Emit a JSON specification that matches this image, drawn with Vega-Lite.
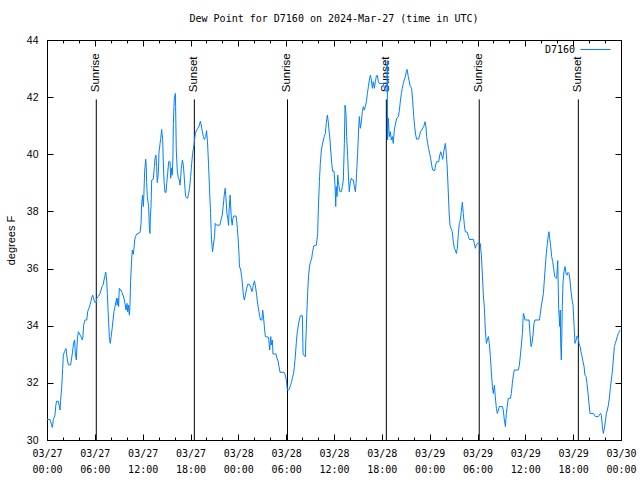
{
"$schema": "https://vega.github.io/schema/vega-lite/v6.json",
"width": 574, "height": 400,
"autosize": "none",
"padding": {"left": 47, "top": 40, "right": 19, "bottom": 40},
"background": "white",
"title": {"text": "Dew Point for D7160 on 2024-Mar-27 (time in UTC)", "font": "DejaVu Sans Mono", "fontSize": 10, "fontWeight": "normal", "color": "black", "offset": 10, "anchor": "middle"},
"config": {"view": {"stroke": "black", "strokeWidth": 1}, "axis": {"grid": false, "domain": false, "tickColor": "black", "labelColor": "black", "titleColor": "black"}},
"datasets": {
"ev": [{"t":"2024-03-27T06:11:00Z","ev":"Sunrise"},{"t":"2024-03-27T18:29:00Z","ev":"Sunset"},{"t":"2024-03-28T06:10:00Z","ev":"Sunrise"},{"t":"2024-03-28T18:34:00Z","ev":"Sunset"},{"t":"2024-03-29T06:13:00Z","ev":"Sunrise"},{"t":"2024-03-29T18:39:00Z","ev":"Sunset"}]
},
"resolve": {"axis": {"x": "independent", "y": "independent"}},
"layer": [
{
"data": {"name": "ev"},
"mark": {"type": "rule", "color": "black", "strokeWidth": 1},
"encoding": {
"x": {"field": "t", "type": "temporal", "scale": {"type": "utc", "domain": ["2024-03-27T00:00:00Z", "2024-03-30T00:00:00Z"], "nice": false},
 "axis": {"orient": "top", "labels": false, "title": null, "tickCount": 12, "tickSize": -6}},
"y": {"datum": 30, "type": "quantitative", "scale": {"domain": [30, 44], "nice": false, "zero": false},
 "axis": {"orient": "right", "labels": false, "title": null, "values": [30,32,34,36,38,40,42,44], "tickSize": -6}},
"y2": {"datum": 41.92}
}
},
{
"data": {"name": "ev"},
"mark": {"type": "rule", "color": "black", "strokeWidth": 1, "opacity": 0},
"encoding": {
"x": {"field": "t", "type": "temporal", "scale": {"type": "utc", "domain": ["2024-03-27T00:00:00Z", "2024-03-30T00:00:00Z"], "nice": false},
 "axis": {"orient": "top", "labels": false, "title": null, "tickSize": -3, "values": [
{"year":2024,"month":3,"date":27,"hours":0,"utc":true},{"year":2024,"month":3,"date":27,"hours":2,"utc":true},{"year":2024,"month":3,"date":27,"hours":4,"utc":true},{"year":2024,"month":3,"date":27,"hours":6,"utc":true},{"year":2024,"month":3,"date":27,"hours":8,"utc":true},{"year":2024,"month":3,"date":27,"hours":10,"utc":true},{"year":2024,"month":3,"date":27,"hours":12,"utc":true},{"year":2024,"month":3,"date":27,"hours":14,"utc":true},{"year":2024,"month":3,"date":27,"hours":16,"utc":true},{"year":2024,"month":3,"date":27,"hours":18,"utc":true},{"year":2024,"month":3,"date":27,"hours":20,"utc":true},{"year":2024,"month":3,"date":27,"hours":22,"utc":true},
{"year":2024,"month":3,"date":28,"hours":0,"utc":true},{"year":2024,"month":3,"date":28,"hours":2,"utc":true},{"year":2024,"month":3,"date":28,"hours":4,"utc":true},{"year":2024,"month":3,"date":28,"hours":6,"utc":true},{"year":2024,"month":3,"date":28,"hours":8,"utc":true},{"year":2024,"month":3,"date":28,"hours":10,"utc":true},{"year":2024,"month":3,"date":28,"hours":12,"utc":true},{"year":2024,"month":3,"date":28,"hours":14,"utc":true},{"year":2024,"month":3,"date":28,"hours":16,"utc":true},{"year":2024,"month":3,"date":28,"hours":18,"utc":true},{"year":2024,"month":3,"date":28,"hours":20,"utc":true},{"year":2024,"month":3,"date":28,"hours":22,"utc":true},
{"year":2024,"month":3,"date":29,"hours":0,"utc":true},{"year":2024,"month":3,"date":29,"hours":2,"utc":true},{"year":2024,"month":3,"date":29,"hours":4,"utc":true},{"year":2024,"month":3,"date":29,"hours":6,"utc":true},{"year":2024,"month":3,"date":29,"hours":8,"utc":true},{"year":2024,"month":3,"date":29,"hours":10,"utc":true},{"year":2024,"month":3,"date":29,"hours":12,"utc":true},{"year":2024,"month":3,"date":29,"hours":14,"utc":true},{"year":2024,"month":3,"date":29,"hours":16,"utc":true},{"year":2024,"month":3,"date":29,"hours":18,"utc":true},{"year":2024,"month":3,"date":29,"hours":20,"utc":true},{"year":2024,"month":3,"date":29,"hours":22,"utc":true},{"year":2024,"month":3,"date":30,"hours":0,"utc":true}]}},
"y": {"datum": 30, "type": "quantitative", "axis": null},
"y2": {"datum": 41.92}
}
},
{
"data": {"name": "ev"},
"mark": {"type": "rule", "color": "black", "strokeWidth": 1, "opacity": 0},
"encoding": {
"x": {"field": "t", "type": "temporal", "scale": {"type": "utc", "domain": ["2024-03-27T00:00:00Z", "2024-03-30T00:00:00Z"], "nice": false},
 "axis": {"orient": "bottom", "title": null, "tickCount": 12, "ticks": false, "format": "%H:%M", "labelFont": "DejaVu Sans Mono", "labelFontSize": 10, "labelPadding": 24, "labelBaseline": "top", "labelOverlap": false, "labelFlush": false, "labelBound": false}},
"y": {"datum": 30, "type": "quantitative", "axis": null},
"y2": {"datum": 41.92}
}
},
{
"data": {"name": "ev"},
"mark": {"type": "text", "angle": 270, "align": "left", "baseline": "middle", "font": "Liberation Sans", "fontSize": 11.5, "color": "black"},
"encoding": {
"x": {"field": "t", "type": "temporal", "scale": {"type": "utc", "domain": ["2024-03-27T00:00:00Z", "2024-03-30T00:00:00Z"], "nice": false},
 "axis": {"orient": "bottom", "labels": false, "title": null, "tickSize": -3, "values": [
{"year":2024,"month":3,"date":27,"hours":0,"utc":true},{"year":2024,"month":3,"date":27,"hours":2,"utc":true},{"year":2024,"month":3,"date":27,"hours":4,"utc":true},{"year":2024,"month":3,"date":27,"hours":6,"utc":true},{"year":2024,"month":3,"date":27,"hours":8,"utc":true},{"year":2024,"month":3,"date":27,"hours":10,"utc":true},{"year":2024,"month":3,"date":27,"hours":12,"utc":true},{"year":2024,"month":3,"date":27,"hours":14,"utc":true},{"year":2024,"month":3,"date":27,"hours":16,"utc":true},{"year":2024,"month":3,"date":27,"hours":18,"utc":true},{"year":2024,"month":3,"date":27,"hours":20,"utc":true},{"year":2024,"month":3,"date":27,"hours":22,"utc":true},
{"year":2024,"month":3,"date":28,"hours":0,"utc":true},{"year":2024,"month":3,"date":28,"hours":2,"utc":true},{"year":2024,"month":3,"date":28,"hours":4,"utc":true},{"year":2024,"month":3,"date":28,"hours":6,"utc":true},{"year":2024,"month":3,"date":28,"hours":8,"utc":true},{"year":2024,"month":3,"date":28,"hours":10,"utc":true},{"year":2024,"month":3,"date":28,"hours":12,"utc":true},{"year":2024,"month":3,"date":28,"hours":14,"utc":true},{"year":2024,"month":3,"date":28,"hours":16,"utc":true},{"year":2024,"month":3,"date":28,"hours":18,"utc":true},{"year":2024,"month":3,"date":28,"hours":20,"utc":true},{"year":2024,"month":3,"date":28,"hours":22,"utc":true},
{"year":2024,"month":3,"date":29,"hours":0,"utc":true},{"year":2024,"month":3,"date":29,"hours":2,"utc":true},{"year":2024,"month":3,"date":29,"hours":4,"utc":true},{"year":2024,"month":3,"date":29,"hours":6,"utc":true},{"year":2024,"month":3,"date":29,"hours":8,"utc":true},{"year":2024,"month":3,"date":29,"hours":10,"utc":true},{"year":2024,"month":3,"date":29,"hours":12,"utc":true},{"year":2024,"month":3,"date":29,"hours":14,"utc":true},{"year":2024,"month":3,"date":29,"hours":16,"utc":true},{"year":2024,"month":3,"date":29,"hours":18,"utc":true},{"year":2024,"month":3,"date":29,"hours":20,"utc":true},{"year":2024,"month":3,"date":29,"hours":22,"utc":true},{"year":2024,"month":3,"date":30,"hours":0,"utc":true}]}},
"y": {"datum": 42.17, "type": "quantitative", "axis": null},
"text": {"field": "ev"}
}
},
{
"data": {"values": [
{"t":"2024-03-27T00:00:00Z","v":30.72},{"t":"2024-03-27T00:23:00Z","v":30.72},{"t":"2024-03-27T00:33:00Z","v":30.55},{"t":"2024-03-27T00:40:00Z","v":30.44},{"t":"2024-03-27T00:48:00Z","v":30.72},{"t":"2024-03-27T01:00:00Z","v":30.87},{"t":"2024-03-27T01:06:00Z","v":31.19},{"t":"2024-03-27T01:12:00Z","v":31.36},{"t":"2024-03-27T01:25:00Z","v":31.36},{"t":"2024-03-27T01:33:00Z","v":31.19},{"t":"2024-03-27T01:38:00Z","v":31.05},{"t":"2024-03-27T01:42:00Z","v":31.36},{"t":"2024-03-27T01:50:00Z","v":31.8},{"t":"2024-03-27T01:58:00Z","v":32.5},{"t":"2024-03-27T02:03:00Z","v":32.97},{"t":"2024-03-27T02:12:00Z","v":33.09},{"t":"2024-03-27T02:23:00Z","v":33.2},{"t":"2024-03-27T02:33:00Z","v":32.8},{"t":"2024-03-27T02:41:00Z","v":32.63},{"t":"2024-03-27T02:58:00Z","v":32.63},{"t":"2024-03-27T03:03:00Z","v":32.8},{"t":"2024-03-27T03:11:00Z","v":33.04},{"t":"2024-03-27T03:15:00Z","v":33.2},{"t":"2024-03-27T03:20:00Z","v":33.39},{"t":"2024-03-27T03:28:00Z","v":33.5},{"t":"2024-03-27T03:33:00Z","v":33.04},{"t":"2024-03-27T03:41:00Z","v":32.8},{"t":"2024-03-27T03:48:00Z","v":33.5},{"t":"2024-03-27T03:56:00Z","v":33.79},{"t":"2024-03-27T04:08:00Z","v":33.68},{"t":"2024-03-27T04:18:00Z","v":33.6},{"t":"2024-03-27T04:26:00Z","v":33.5},{"t":"2024-03-27T04:30:00Z","v":33.6},{"t":"2024-03-27T04:36:00Z","v":34.02},{"t":"2024-03-27T04:46:00Z","v":34.2},{"t":"2024-03-27T04:59:00Z","v":34.2},{"t":"2024-03-27T05:03:00Z","v":34.34},{"t":"2024-03-27T05:06:00Z","v":34.49},{"t":"2024-03-27T05:14:00Z","v":34.6},{"t":"2024-03-27T05:23:00Z","v":34.72},{"t":"2024-03-27T05:30:00Z","v":34.84},{"t":"2024-03-27T05:36:00Z","v":34.98},{"t":"2024-03-27T05:44:00Z","v":35.07},{"t":"2024-03-27T05:54:00Z","v":34.9},{"t":"2024-03-27T06:00:00Z","v":34.82},{"t":"2024-03-27T06:12:00Z","v":34.82},{"t":"2024-03-27T06:14:00Z","v":34.96},{"t":"2024-03-27T06:26:00Z","v":35.02},{"t":"2024-03-27T06:39:00Z","v":35.13},{"t":"2024-03-27T06:47:00Z","v":35.25},{"t":"2024-03-27T06:54:00Z","v":35.37},{"t":"2024-03-27T07:04:00Z","v":35.45},{"t":"2024-03-27T07:09:00Z","v":35.6},{"t":"2024-03-27T07:17:00Z","v":35.77},{"t":"2024-03-27T07:22:00Z","v":35.88},{"t":"2024-03-27T07:29:00Z","v":35.6},{"t":"2024-03-27T07:34:00Z","v":35.13},{"t":"2024-03-27T07:39:00Z","v":34.6},{"t":"2024-03-27T07:44:00Z","v":34.1},{"t":"2024-03-27T07:49:00Z","v":33.62},{"t":"2024-03-27T07:56:00Z","v":33.38},{"t":"2024-03-27T08:02:00Z","v":33.6},{"t":"2024-03-27T08:09:00Z","v":33.85},{"t":"2024-03-27T08:17:00Z","v":34.2},{"t":"2024-03-27T08:24:00Z","v":34.49},{"t":"2024-03-27T08:32:00Z","v":34.67},{"t":"2024-03-27T08:44:00Z","v":34.96},{"t":"2024-03-27T08:48:00Z","v":34.72},{"t":"2024-03-27T08:54:00Z","v":34.96},{"t":"2024-03-27T08:59:00Z","v":34.67},{"t":"2024-03-27T09:04:00Z","v":35.31},{"t":"2024-03-27T09:15:00Z","v":35.25},{"t":"2024-03-27T09:25:00Z","v":35.16},{"t":"2024-03-27T09:34:00Z","v":35.04},{"t":"2024-03-27T09:42:00Z","v":34.9},{"t":"2024-03-27T09:47:00Z","v":34.78},{"t":"2024-03-27T09:55:00Z","v":34.55},{"t":"2024-03-27T10:02:00Z","v":34.78},{"t":"2024-03-27T10:07:00Z","v":34.49},{"t":"2024-03-27T10:12:00Z","v":34.72},{"t":"2024-03-27T10:20:00Z","v":34.37},{"t":"2024-03-27T10:25:00Z","v":34.78},{"t":"2024-03-27T10:29:00Z","v":35.54},{"t":"2024-03-27T10:37:00Z","v":36.3},{"t":"2024-03-27T10:42:00Z","v":36.65},{"t":"2024-03-27T10:50:00Z","v":36.5},{"t":"2024-03-27T10:54:00Z","v":36.68},{"t":"2024-03-27T11:00:00Z","v":37.0},{"t":"2024-03-27T11:06:00Z","v":37.12},{"t":"2024-03-27T11:15:00Z","v":37.21},{"t":"2024-03-27T11:40:00Z","v":37.26},{"t":"2024-03-27T11:48:00Z","v":37.58},{"t":"2024-03-27T11:52:00Z","v":38.22},{"t":"2024-03-27T11:59:00Z","v":38.57},{"t":"2024-03-27T12:05:00Z","v":38.17},{"t":"2024-03-27T12:09:00Z","v":38.57},{"t":"2024-03-27T12:15:00Z","v":39.41},{"t":"2024-03-27T12:23:00Z","v":39.83},{"t":"2024-03-27T12:27:00Z","v":39.57},{"t":"2024-03-27T12:30:00Z","v":39.01},{"t":"2024-03-27T12:35:00Z","v":38.52},{"t":"2024-03-27T12:45:00Z","v":38.17},{"t":"2024-03-27T12:50:00Z","v":37.47},{"t":"2024-03-27T12:55:00Z","v":37.23},{"t":"2024-03-27T12:58:00Z","v":37.8},{"t":"2024-03-27T13:03:00Z","v":38.17},{"t":"2024-03-27T13:08:00Z","v":39.1},{"t":"2024-03-27T13:20:00Z","v":39.13},{"t":"2024-03-27T13:28:00Z","v":39.57},{"t":"2024-03-27T13:33:00Z","v":39.86},{"t":"2024-03-27T13:40:00Z","v":39.97},{"t":"2024-03-27T13:45:00Z","v":39.57},{"t":"2024-03-27T13:50:00Z","v":39.01},{"t":"2024-03-27T13:58:00Z","v":39.33},{"t":"2024-03-27T14:03:00Z","v":40.08},{"t":"2024-03-27T14:16:00Z","v":40.56},{"t":"2024-03-27T14:23:00Z","v":40.87},{"t":"2024-03-27T14:31:00Z","v":40.5},{"t":"2024-03-27T14:35:00Z","v":39.74},{"t":"2024-03-27T14:41:00Z","v":39.04},{"t":"2024-03-27T14:48:00Z","v":38.67},{"t":"2024-03-27T14:56:00Z","v":38.67},{"t":"2024-03-27T15:01:00Z","v":38.98},{"t":"2024-03-27T15:08:00Z","v":39.33},{"t":"2024-03-27T15:16:00Z","v":39.74},{"t":"2024-03-27T15:26:00Z","v":39.74},{"t":"2024-03-27T15:31:00Z","v":39.16},{"t":"2024-03-27T15:38:00Z","v":39.51},{"t":"2024-03-27T15:43:00Z","v":39.27},{"t":"2024-03-27T15:48:00Z","v":39.97},{"t":"2024-03-27T15:51:00Z","v":41.08},{"t":"2024-03-27T15:58:00Z","v":41.96},{"t":"2024-03-27T16:06:00Z","v":42.13},{"t":"2024-03-27T16:08:00Z","v":41.67},{"t":"2024-03-27T16:13:00Z","v":40.15},{"t":"2024-03-27T16:21:00Z","v":39.39},{"t":"2024-03-27T16:28:00Z","v":39.18},{"t":"2024-03-27T16:36:00Z","v":39.1},{"t":"2024-03-27T16:41:00Z","v":38.92},{"t":"2024-03-27T16:46:00Z","v":39.2},{"t":"2024-03-27T16:51:00Z","v":39.51},{"t":"2024-03-27T16:59:00Z","v":39.8},{"t":"2024-03-27T17:06:00Z","v":39.62},{"t":"2024-03-27T17:11:00Z","v":39.33},{"t":"2024-03-27T17:19:00Z","v":38.77},{"t":"2024-03-27T17:23:00Z","v":38.52},{"t":"2024-03-27T17:38:00Z","v":38.46},{"t":"2024-03-27T17:46:00Z","v":38.63},{"t":"2024-03-27T17:53:00Z","v":38.81},{"t":"2024-03-27T18:01:00Z","v":39.22},{"t":"2024-03-27T18:09:00Z","v":39.68},{"t":"2024-03-27T18:16:00Z","v":40.03},{"t":"2024-03-27T18:26:00Z","v":40.32},{"t":"2024-03-27T18:30:00Z","v":40.5},{"t":"2024-03-27T18:37:00Z","v":40.73},{"t":"2024-03-27T18:46:00Z","v":40.85},{"t":"2024-03-27T18:56:00Z","v":40.91},{"t":"2024-03-27T19:07:00Z","v":41.02},{"t":"2024-03-27T19:14:00Z","v":41.16},{"t":"2024-03-27T19:22:00Z","v":40.99},{"t":"2024-03-27T19:29:00Z","v":40.79},{"t":"2024-03-27T19:37:00Z","v":40.62},{"t":"2024-03-27T19:44:00Z","v":40.52},{"t":"2024-03-27T19:54:00Z","v":40.62},{"t":"2024-03-27T20:01:00Z","v":40.83},{"t":"2024-03-27T20:08:00Z","v":40.44},{"t":"2024-03-27T20:16:00Z","v":39.63},{"t":"2024-03-27T20:23:00Z","v":38.78},{"t":"2024-03-27T20:31:00Z","v":37.93},{"t":"2024-03-27T20:38:00Z","v":37.03},{"t":"2024-03-27T20:46:00Z","v":36.59},{"t":"2024-03-27T20:53:00Z","v":36.86},{"t":"2024-03-27T21:01:00Z","v":37.12},{"t":"2024-03-27T21:06:00Z","v":37.58},{"t":"2024-03-27T21:16:00Z","v":37.52},{"t":"2024-03-27T21:41:00Z","v":37.52},{"t":"2024-03-27T21:49:00Z","v":37.7},{"t":"2024-03-27T21:59:00Z","v":37.87},{"t":"2024-03-27T22:06:00Z","v":38.17},{"t":"2024-03-27T22:14:00Z","v":38.57},{"t":"2024-03-27T22:21:00Z","v":38.81},{"t":"2024-03-27T22:26:00Z","v":38.52},{"t":"2024-03-27T22:34:00Z","v":37.93},{"t":"2024-03-27T22:41:00Z","v":37.76},{"t":"2024-03-27T22:46:00Z","v":37.51},{"t":"2024-03-27T22:51:00Z","v":38.05},{"t":"2024-03-27T22:58:00Z","v":38.57},{"t":"2024-03-27T23:04:00Z","v":38.05},{"t":"2024-03-27T23:08:00Z","v":37.7},{"t":"2024-03-27T23:14:00Z","v":37.52},{"t":"2024-03-27T23:19:00Z","v":37.76},{"t":"2024-03-27T23:26:00Z","v":37.84},{"t":"2024-03-27T23:43:00Z","v":37.84},{"t":"2024-03-27T23:51:00Z","v":37.52},{"t":"2024-03-27T23:59:00Z","v":37.0},
{"t":"2024-03-28T00:06:00Z","v":36.42},{"t":"2024-03-28T00:08:00Z","v":36.09},{"t":"2024-03-28T00:18:00Z","v":35.95},{"t":"2024-03-28T00:25:00Z","v":35.72},{"t":"2024-03-28T00:32:00Z","v":35.39},{"t":"2024-03-28T00:38:00Z","v":35.07},{"t":"2024-03-28T00:45:00Z","v":34.9},{"t":"2024-03-28T00:53:00Z","v":35.07},{"t":"2024-03-28T01:03:00Z","v":35.31},{"t":"2024-03-28T01:10:00Z","v":35.45},{"t":"2024-03-28T01:23:00Z","v":35.45},{"t":"2024-03-28T01:33:00Z","v":35.34},{"t":"2024-03-28T01:43:00Z","v":35.19},{"t":"2024-03-28T01:53:00Z","v":35.42},{"t":"2024-03-28T02:01:00Z","v":35.57},{"t":"2024-03-28T02:08:00Z","v":35.42},{"t":"2024-03-28T02:18:00Z","v":35.07},{"t":"2024-03-28T02:26:00Z","v":34.76},{"t":"2024-03-28T02:33:00Z","v":34.55},{"t":"2024-03-28T02:41:00Z","v":34.32},{"t":"2024-03-28T02:48:00Z","v":34.2},{"t":"2024-03-28T02:58:00Z","v":34.2},{"t":"2024-03-28T03:03:00Z","v":34.55},{"t":"2024-03-28T03:08:00Z","v":34.37},{"t":"2024-03-28T03:16:00Z","v":33.97},{"t":"2024-03-28T03:23:00Z","v":33.62},{"t":"2024-03-28T03:46:00Z","v":33.6},{"t":"2024-03-28T03:51:00Z","v":33.44},{"t":"2024-03-28T03:56:00Z","v":33.15},{"t":"2024-03-28T04:04:00Z","v":33.62},{"t":"2024-03-28T04:08:00Z","v":33.33},{"t":"2024-03-28T04:16:00Z","v":33.5},{"t":"2024-03-28T04:21:00Z","v":33.01},{"t":"2024-03-28T04:44:00Z","v":33.01},{"t":"2024-03-28T04:51:00Z","v":32.86},{"t":"2024-03-28T04:59:00Z","v":32.77},{"t":"2024-03-28T05:06:00Z","v":32.57},{"t":"2024-03-28T05:14:00Z","v":32.37},{"t":"2024-03-28T05:44:00Z","v":32.37},{"t":"2024-03-28T05:51:00Z","v":32.3},{"t":"2024-03-28T05:59:00Z","v":32.16},{"t":"2024-03-28T06:04:00Z","v":31.98},{"t":"2024-03-28T06:09:00Z","v":31.75},{"t":"2024-03-28T06:19:00Z","v":31.75},{"t":"2024-03-28T06:26:00Z","v":31.82},{"t":"2024-03-28T06:34:00Z","v":31.94},{"t":"2024-03-28T06:41:00Z","v":32.04},{"t":"2024-03-28T06:49:00Z","v":32.22},{"t":"2024-03-28T06:56:00Z","v":32.34},{"t":"2024-03-28T07:02:00Z","v":32.57},{"t":"2024-03-28T07:09:00Z","v":32.94},{"t":"2024-03-28T07:17:00Z","v":33.44},{"t":"2024-03-28T07:24:00Z","v":33.79},{"t":"2024-03-28T07:32:00Z","v":34.02},{"t":"2024-03-28T07:39:00Z","v":34.2},{"t":"2024-03-28T07:47:00Z","v":34.35},{"t":"2024-03-28T08:02:00Z","v":34.35},{"t":"2024-03-28T08:07:00Z","v":33.03},{"t":"2024-03-28T08:14:00Z","v":32.97},{"t":"2024-03-28T08:25:00Z","v":32.91},{"t":"2024-03-28T08:27:00Z","v":33.32},{"t":"2024-03-28T08:34:00Z","v":34.26},{"t":"2024-03-28T08:42:00Z","v":35.19},{"t":"2024-03-28T08:49:00Z","v":35.77},{"t":"2024-03-28T08:57:00Z","v":36.12},{"t":"2024-03-28T09:04:00Z","v":36.24},{"t":"2024-03-28T09:12:00Z","v":36.36},{"t":"2024-03-28T09:19:00Z","v":36.59},{"t":"2024-03-28T09:27:00Z","v":36.79},{"t":"2024-03-28T09:47:00Z","v":36.82},{"t":"2024-03-28T09:55:00Z","v":37.12},{"t":"2024-03-28T09:57:00Z","v":37.23},{"t":"2024-03-28T10:02:00Z","v":38.05},{"t":"2024-03-28T10:10:00Z","v":39.04},{"t":"2024-03-28T10:17:00Z","v":39.68},{"t":"2024-03-28T10:25:00Z","v":40.15},{"t":"2024-03-28T10:32:00Z","v":40.32},{"t":"2024-03-28T10:40:00Z","v":40.5},{"t":"2024-03-28T10:47:00Z","v":40.62},{"t":"2024-03-28T10:55:00Z","v":40.73},{"t":"2024-03-28T11:02:00Z","v":41.08},{"t":"2024-03-28T11:10:00Z","v":41.37},{"t":"2024-03-28T11:17:00Z","v":41.14},{"t":"2024-03-28T11:25:00Z","v":40.73},{"t":"2024-03-28T11:30:00Z","v":40.5},{"t":"2024-03-28T11:35:00Z","v":40.15},{"t":"2024-03-28T11:43:00Z","v":39.68},{"t":"2024-03-28T11:50:00Z","v":39.41},{"t":"2024-03-28T12:00:00Z","v":39.41},{"t":"2024-03-28T12:08:00Z","v":38.87},{"t":"2024-03-28T12:13:00Z","v":38.17},{"t":"2024-03-28T12:17:00Z","v":38.87},{"t":"2024-03-28T12:23:00Z","v":38.52},{"t":"2024-03-28T12:28:00Z","v":39.27},{"t":"2024-03-28T12:33:00Z","v":39.04},{"t":"2024-03-28T12:38:00Z","v":38.87},{"t":"2024-03-28T12:45:00Z","v":38.69},{"t":"2024-03-28T12:55:00Z","v":38.69},{"t":"2024-03-28T13:03:00Z","v":38.87},{"t":"2024-03-28T13:10:00Z","v":39.1},{"t":"2024-03-28T13:18:00Z","v":40.38},{"t":"2024-03-28T13:23:00Z","v":41.72},{"t":"2024-03-28T13:31:00Z","v":41.37},{"t":"2024-03-28T13:35:00Z","v":40.62},{"t":"2024-03-28T13:43:00Z","v":39.92},{"t":"2024-03-28T13:50:00Z","v":39.1},{"t":"2024-03-28T13:55:00Z","v":38.69},{"t":"2024-03-28T14:03:00Z","v":39.04},{"t":"2024-03-28T14:11:00Z","v":39.16},{"t":"2024-03-28T14:18:00Z","v":39.1},{"t":"2024-03-28T14:26:00Z","v":39.1},{"t":"2024-03-28T14:33:00Z","v":38.87},{"t":"2024-03-28T14:41:00Z","v":38.69},{"t":"2024-03-28T14:46:00Z","v":38.98},{"t":"2024-03-28T14:50:00Z","v":39.33},{"t":"2024-03-28T14:58:00Z","v":40.03},{"t":"2024-03-28T15:05:00Z","v":40.85},{"t":"2024-03-28T15:11:00Z","v":41.32},{"t":"2024-03-28T15:18:00Z","v":40.91},{"t":"2024-03-28T15:26:00Z","v":41.14},{"t":"2024-03-28T15:33:00Z","v":41.49},{"t":"2024-03-28T15:41:00Z","v":41.67},{"t":"2024-03-28T15:48:00Z","v":41.55},{"t":"2024-03-28T15:56:00Z","v":41.67},{"t":"2024-03-28T16:04:00Z","v":41.84},{"t":"2024-03-28T16:11:00Z","v":42.13},{"t":"2024-03-28T16:19:00Z","v":42.37},{"t":"2024-03-28T16:26:00Z","v":42.6},{"t":"2024-03-28T16:34:00Z","v":42.77},{"t":"2024-03-28T16:41:00Z","v":42.6},{"t":"2024-03-28T16:49:00Z","v":42.31},{"t":"2024-03-28T16:56:00Z","v":42.54},{"t":"2024-03-28T17:04:00Z","v":42.31},{"t":"2024-03-28T17:11:00Z","v":42.54},{"t":"2024-03-28T17:19:00Z","v":42.74},{"t":"2024-03-28T17:26:00Z","v":42.77},{"t":"2024-03-28T17:34:00Z","v":42.54},{"t":"2024-03-28T17:41:00Z","v":42.48},{"t":"2024-03-28T18:11:00Z","v":42.48},{"t":"2024-03-28T18:19:00Z","v":42.31},{"t":"2024-03-28T18:26:00Z","v":42.25},{"t":"2024-03-28T18:34:00Z","v":42.19},{"t":"2024-03-28T18:39:00Z","v":42.2},{"t":"2024-03-28T18:41:00Z","v":43.25},{"t":"2024-03-28T18:43:00Z","v":40.5},{"t":"2024-03-28T18:49:00Z","v":41.26},{"t":"2024-03-28T18:56:00Z","v":40.62},{"t":"2024-03-28T19:04:00Z","v":40.79},{"t":"2024-03-28T19:11:00Z","v":40.5},{"t":"2024-03-28T19:19:00Z","v":40.62},{"t":"2024-03-28T19:26:00Z","v":40.38},{"t":"2024-03-28T19:34:00Z","v":40.85},{"t":"2024-03-28T19:41:00Z","v":41.02},{"t":"2024-03-28T19:52:00Z","v":41.26},{"t":"2024-03-28T20:04:00Z","v":41.32},{"t":"2024-03-28T20:11:00Z","v":41.49},{"t":"2024-03-28T20:19:00Z","v":41.84},{"t":"2024-03-28T20:27:00Z","v":42.13},{"t":"2024-03-28T20:34:00Z","v":42.31},{"t":"2024-03-28T20:42:00Z","v":42.48},{"t":"2024-03-28T20:49:00Z","v":42.6},{"t":"2024-03-28T20:57:00Z","v":42.72},{"t":"2024-03-28T21:04:00Z","v":42.89},{"t":"2024-03-28T21:10:00Z","v":42.97},{"t":"2024-03-28T21:19:00Z","v":42.72},{"t":"2024-03-28T21:27:00Z","v":42.54},{"t":"2024-03-28T21:34:00Z","v":42.37},{"t":"2024-03-28T21:44:00Z","v":42.31},{"t":"2024-03-28T21:52:00Z","v":41.9},{"t":"2024-03-28T22:00:00Z","v":41.32},{"t":"2024-03-28T22:07:00Z","v":40.97},{"t":"2024-03-28T22:15:00Z","v":40.67},{"t":"2024-03-28T22:22:00Z","v":40.53},{"t":"2024-03-28T22:37:00Z","v":40.53},{"t":"2024-03-28T22:45:00Z","v":40.67},{"t":"2024-03-28T22:50:00Z","v":40.79},{"t":"2024-03-28T23:00:00Z","v":40.85},{"t":"2024-03-28T23:15:00Z","v":40.97},{"t":"2024-03-28T23:25:00Z","v":41.14},{"t":"2024-03-28T23:32:00Z","v":40.97},{"t":"2024-03-28T23:37:00Z","v":40.62},{"t":"2024-03-28T23:45:00Z","v":40.38},{"t":"2024-03-28T23:52:00Z","v":40.2},
{"t":"2024-03-29T00:00:00Z","v":40.03},{"t":"2024-03-29T00:07:00Z","v":39.86},{"t":"2024-03-29T00:15:00Z","v":39.63},{"t":"2024-03-29T00:22:00Z","v":39.45},{"t":"2024-03-29T00:38:00Z","v":39.43},{"t":"2024-03-29T00:45:00Z","v":39.63},{"t":"2024-03-29T00:53:00Z","v":39.74},{"t":"2024-03-29T01:08:00Z","v":39.74},{"t":"2024-03-29T01:15:00Z","v":39.94},{"t":"2024-03-29T01:23:00Z","v":40.09},{"t":"2024-03-29T01:30:00Z","v":39.97},{"t":"2024-03-29T01:38:00Z","v":39.82},{"t":"2024-03-29T01:46:00Z","v":40.09},{"t":"2024-03-29T01:53:00Z","v":40.27},{"t":"2024-03-29T01:58:00Z","v":40.38},{"t":"2024-03-29T02:03:00Z","v":40.15},{"t":"2024-03-29T02:11:00Z","v":39.63},{"t":"2024-03-29T02:18:00Z","v":38.92},{"t":"2024-03-29T02:26:00Z","v":37.99},{"t":"2024-03-29T02:33:00Z","v":37.52},{"t":"2024-03-29T02:41:00Z","v":37.4},{"t":"2024-03-29T02:50:00Z","v":37.29},{"t":"2024-03-29T02:58:00Z","v":36.94},{"t":"2024-03-29T03:06:00Z","v":36.71},{"t":"2024-03-29T03:13:00Z","v":36.65},{"t":"2024-03-29T03:21:00Z","v":36.53},{"t":"2024-03-29T03:28:00Z","v":36.71},{"t":"2024-03-29T03:36:00Z","v":37.23},{"t":"2024-03-29T03:43:00Z","v":37.58},{"t":"2024-03-29T03:51:00Z","v":37.7},{"t":"2024-03-29T03:58:00Z","v":37.99},{"t":"2024-03-29T04:06:00Z","v":38.32},{"t":"2024-03-29T04:13:00Z","v":37.93},{"t":"2024-03-29T04:21:00Z","v":37.52},{"t":"2024-03-29T04:28:00Z","v":37.29},{"t":"2024-03-29T04:44:00Z","v":37.27},{"t":"2024-03-29T04:51:00Z","v":37.12},{"t":"2024-03-29T04:59:00Z","v":37.02},{"t":"2024-03-29T05:29:00Z","v":37.02},{"t":"2024-03-29T05:36:00Z","v":36.88},{"t":"2024-03-29T05:44:00Z","v":36.71},{"t":"2024-03-29T05:51:00Z","v":36.82},{"t":"2024-03-29T05:59:00Z","v":36.88},{"t":"2024-03-29T06:21:00Z","v":36.88},{"t":"2024-03-29T06:29:00Z","v":36.47},{"t":"2024-03-29T06:37:00Z","v":35.77},{"t":"2024-03-29T06:44:00Z","v":35.07},{"t":"2024-03-29T06:52:00Z","v":34.61},{"t":"2024-03-29T06:59:00Z","v":33.85},{"t":"2024-03-29T07:07:00Z","v":33.38},{"t":"2024-03-29T07:14:00Z","v":33.5},{"t":"2024-03-29T07:22:00Z","v":33.62},{"t":"2024-03-29T07:29:00Z","v":33.38},{"t":"2024-03-29T07:37:00Z","v":32.92},{"t":"2024-03-29T07:44:00Z","v":32.39},{"t":"2024-03-29T07:52:00Z","v":31.87},{"t":"2024-03-29T07:59:00Z","v":31.63},{"t":"2024-03-29T08:07:00Z","v":31.92},{"t":"2024-03-29T08:14:00Z","v":31.51},{"t":"2024-03-29T08:22:00Z","v":31.11},{"t":"2024-03-29T08:29:00Z","v":30.93},{"t":"2024-03-29T08:37:00Z","v":31.05},{"t":"2024-03-29T08:44:00Z","v":31.17},{"t":"2024-03-29T09:07:00Z","v":31.17},{"t":"2024-03-29T09:14:00Z","v":31.05},{"t":"2024-03-29T09:22:00Z","v":30.7},{"t":"2024-03-29T09:30:00Z","v":30.47},{"t":"2024-03-29T09:37:00Z","v":30.93},{"t":"2024-03-29T09:45:00Z","v":31.22},{"t":"2024-03-29T09:52:00Z","v":31.46},{"t":"2024-03-29T10:07:00Z","v":31.46},{"t":"2024-03-29T10:15:00Z","v":31.63},{"t":"2024-03-29T10:22:00Z","v":31.98},{"t":"2024-03-29T10:30:00Z","v":32.27},{"t":"2024-03-29T10:37:00Z","v":32.45},{"t":"2024-03-29T11:07:00Z","v":32.45},{"t":"2024-03-29T11:15:00Z","v":32.62},{"t":"2024-03-29T11:23:00Z","v":32.97},{"t":"2024-03-29T11:30:00Z","v":33.32},{"t":"2024-03-29T11:38:00Z","v":33.73},{"t":"2024-03-29T11:45:00Z","v":34.43},{"t":"2024-03-29T11:50:00Z","v":34.37},{"t":"2024-03-29T11:58:00Z","v":34.2},{"t":"2024-03-29T12:28:00Z","v":34.2},{"t":"2024-03-29T12:35:00Z","v":33.73},{"t":"2024-03-29T12:43:00Z","v":33.27},{"t":"2024-03-29T12:50:00Z","v":33.38},{"t":"2024-03-29T12:58:00Z","v":33.68},{"t":"2024-03-29T13:05:00Z","v":34.08},{"t":"2024-03-29T13:13:00Z","v":34.2},{"t":"2024-03-29T13:46:00Z","v":34.2},{"t":"2024-03-29T13:53:00Z","v":34.43},{"t":"2024-03-29T14:01:00Z","v":34.72},{"t":"2024-03-29T14:08:00Z","v":34.9},{"t":"2024-03-29T14:16:00Z","v":35.13},{"t":"2024-03-29T14:23:00Z","v":35.6},{"t":"2024-03-29T14:31:00Z","v":36.12},{"t":"2024-03-29T14:38:00Z","v":36.53},{"t":"2024-03-29T14:46:00Z","v":36.88},{"t":"2024-03-29T14:53:00Z","v":37.17},{"t":"2024-03-29T14:58:00Z","v":37.29},{"t":"2024-03-29T15:03:00Z","v":37.06},{"t":"2024-03-29T15:11:00Z","v":36.77},{"t":"2024-03-29T15:18:00Z","v":36.42},{"t":"2024-03-29T15:26:00Z","v":36.24},{"t":"2024-03-29T15:33:00Z","v":36.01},{"t":"2024-03-29T15:41:00Z","v":35.72},{"t":"2024-03-29T15:56:00Z","v":35.66},{"t":"2024-03-29T16:04:00Z","v":36.28},{"t":"2024-03-29T16:06:00Z","v":35.72},{"t":"2024-03-29T16:11:00Z","v":34.61},{"t":"2024-03-29T16:19:00Z","v":33.97},{"t":"2024-03-29T16:23:00Z","v":34.55},{"t":"2024-03-29T16:26:00Z","v":33.38},{"t":"2024-03-29T16:31:00Z","v":32.8},{"t":"2024-03-29T16:34:00Z","v":33.5},{"t":"2024-03-29T16:38:00Z","v":34.67},{"t":"2024-03-29T16:44:00Z","v":35.54},{"t":"2024-03-29T16:51:00Z","v":35.89},{"t":"2024-03-29T16:59:00Z","v":36.07},{"t":"2024-03-29T17:06:00Z","v":35.83},{"t":"2024-03-29T17:14:00Z","v":35.77},{"t":"2024-03-29T17:21:00Z","v":35.87},{"t":"2024-03-29T17:29:00Z","v":35.83},{"t":"2024-03-29T17:36:00Z","v":35.6},{"t":"2024-03-29T17:44:00Z","v":35.19},{"t":"2024-03-29T17:52:00Z","v":34.9},{"t":"2024-03-29T17:59:00Z","v":34.72},{"t":"2024-03-29T18:07:00Z","v":33.97},{"t":"2024-03-29T18:14:00Z","v":33.38},{"t":"2024-03-29T18:22:00Z","v":33.5},{"t":"2024-03-29T18:29:00Z","v":33.64},{"t":"2024-03-29T18:37:00Z","v":33.62},{"t":"2024-03-29T18:44:00Z","v":33.38},{"t":"2024-03-29T18:52:00Z","v":33.27},{"t":"2024-03-29T18:59:00Z","v":33.09},{"t":"2024-03-29T19:07:00Z","v":32.92},{"t":"2024-03-29T19:14:00Z","v":32.74},{"t":"2024-03-29T19:22:00Z","v":32.57},{"t":"2024-03-29T19:29:00Z","v":32.27},{"t":"2024-03-29T19:37:00Z","v":32.22},{"t":"2024-03-29T19:44:00Z","v":31.98},{"t":"2024-03-29T19:52:00Z","v":31.63},{"t":"2024-03-29T19:59:00Z","v":31.28},{"t":"2024-03-29T20:07:00Z","v":30.93},{"t":"2024-03-29T20:32:00Z","v":30.93},{"t":"2024-03-29T20:40:00Z","v":30.87},{"t":"2024-03-29T20:47:00Z","v":30.82},{"t":"2024-03-29T21:10:00Z","v":30.82},{"t":"2024-03-29T21:17:00Z","v":30.87},{"t":"2024-03-29T21:25:00Z","v":30.93},{"t":"2024-03-29T21:32:00Z","v":30.87},{"t":"2024-03-29T21:40:00Z","v":30.47},{"t":"2024-03-29T21:47:00Z","v":30.23},{"t":"2024-03-29T21:55:00Z","v":30.41},{"t":"2024-03-29T22:02:00Z","v":30.64},{"t":"2024-03-29T22:10:00Z","v":30.93},{"t":"2024-03-29T22:17:00Z","v":31.05},{"t":"2024-03-29T22:25:00Z","v":31.22},{"t":"2024-03-29T22:32:00Z","v":31.46},{"t":"2024-03-29T22:40:00Z","v":31.81},{"t":"2024-03-29T22:47:00Z","v":32.1},{"t":"2024-03-29T22:55:00Z","v":32.39},{"t":"2024-03-29T23:02:00Z","v":32.8},{"t":"2024-03-29T23:10:00Z","v":33.27},{"t":"2024-03-29T23:17:00Z","v":33.38},{"t":"2024-03-29T23:25:00Z","v":33.5},{"t":"2024-03-29T23:32:00Z","v":33.62},{"t":"2024-03-29T23:40:00Z","v":33.73},{"t":"2024-03-29T23:47:00Z","v":33.79},{"t":"2024-03-29T23:53:00Z","v":33.85}
]},
"mark": {"type": "line", "strokeWidth": 1},
"encoding": {
"x": {"field": "t", "type": "temporal", "scale": {"type": "utc", "domain": ["2024-03-27T00:00:00Z", "2024-03-30T00:00:00Z"], "nice": false},
 "axis": {"orient": "bottom", "title": null, "tickCount": 12, "tickSize": -6, "format": "%m/%d",
  "labelFont": "DejaVu Sans Mono", "labelFontSize": 10, "labelPadding": 14, "labelBaseline": "top", "labelOverlap": false, "labelFlush": false, "labelBound": false}},
"y": {"field": "v", "type": "quantitative", "scale": {"domain": [30, 44], "nice": false, "zero": false},
 "axis": {"orient": "left", "title": "degrees F", "values": [30,32,34,36,38,40,42,44], "tickSize": -6, "labelFont": "Liberation Sans", "labelFontSize": 10.5, "labelPadding": 15, "titleFont": "Liberation Sans", "titleFontSize": 11, "titleFontWeight": "normal", "titlePadding": 10}},
"color": {"datum": "D7160", "type": "nominal", "scale": {"range": ["#0080ff"]},
 "legend": {"orient": "none", "legendX": 533, "legendY": -6, "title": null, "symbolType": "stroke", "symbolSize": 900, "symbolStrokeWidth": 1, "labelFont": "DejaVu Sans Mono", "labelFontSize": 10, "labelColor": "black", "labelAlign": "right", "labelOffset": -36, "padding": 0}}
}
}
]
}
